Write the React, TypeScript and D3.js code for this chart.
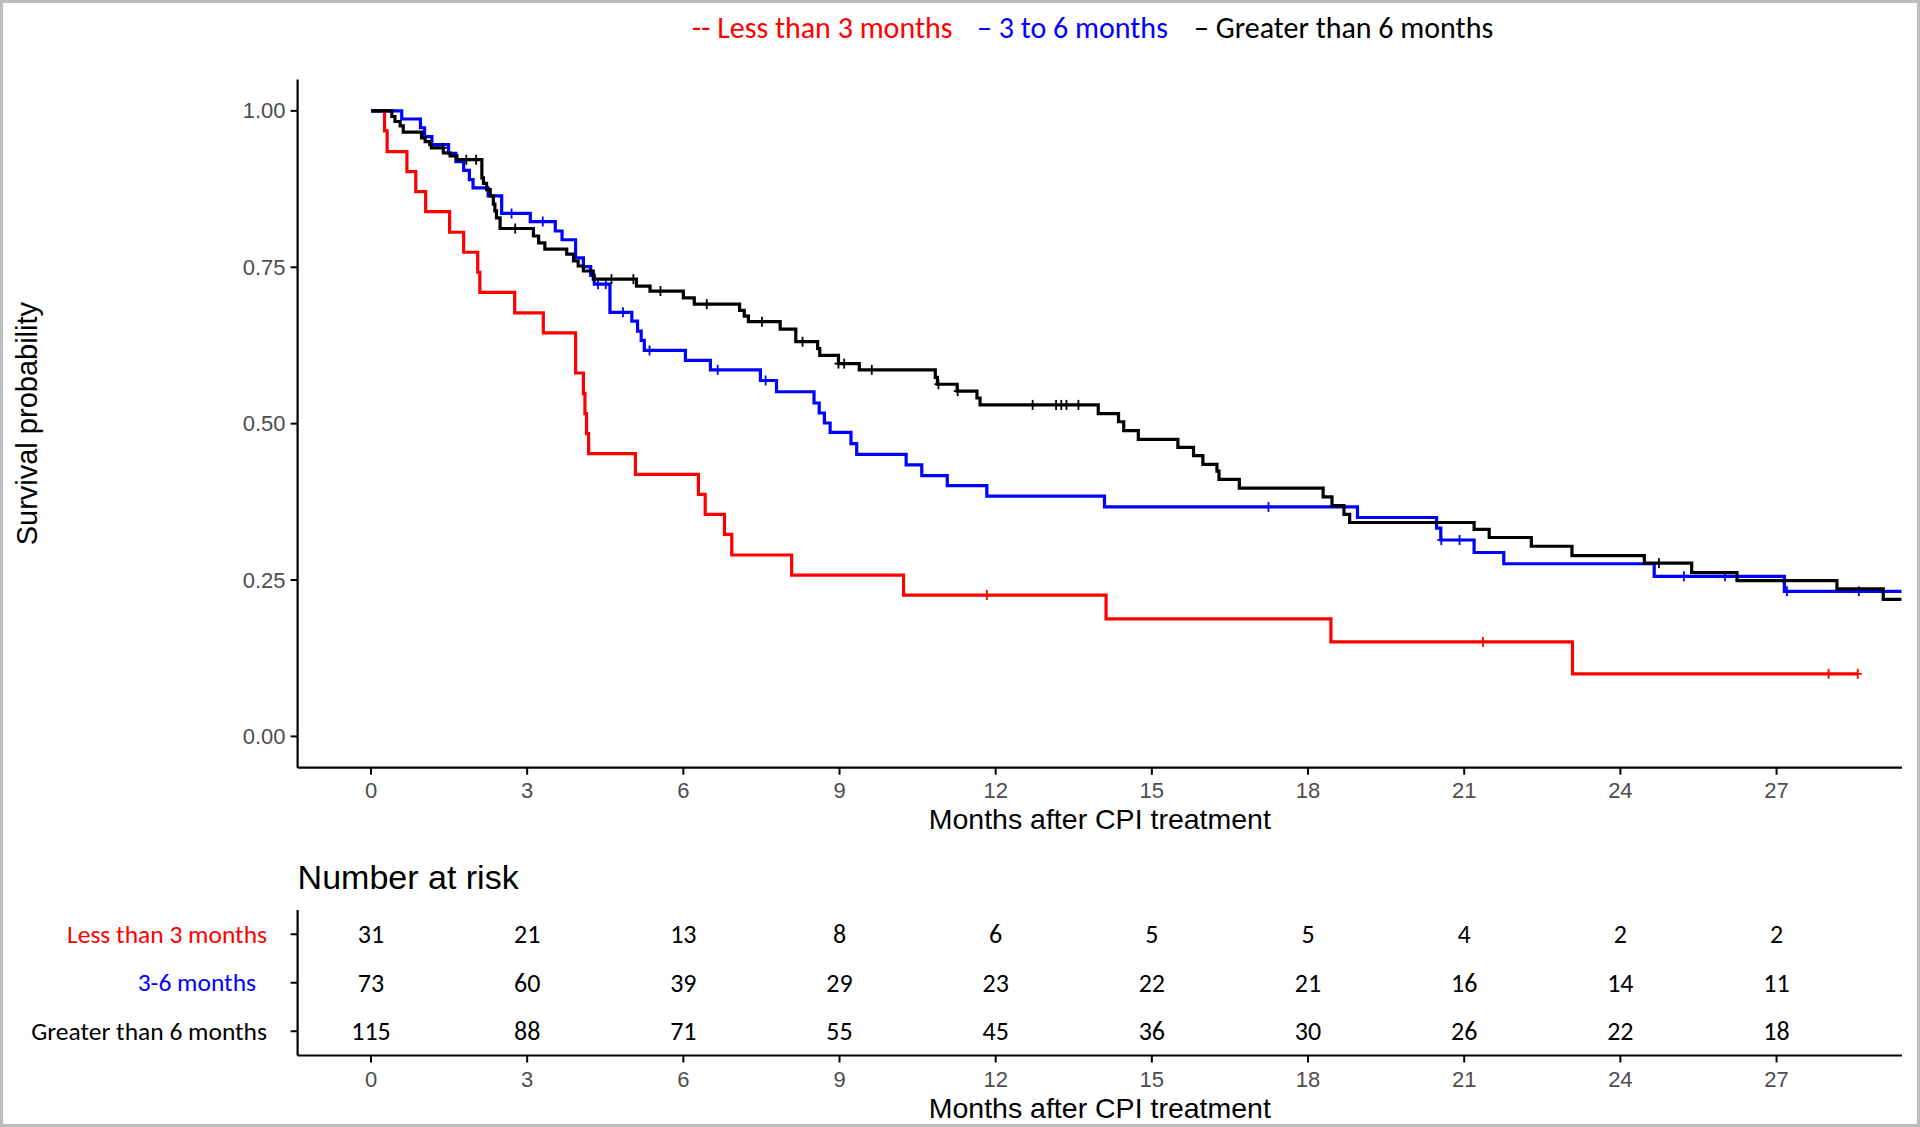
import React from "react";
import * as d3 from "d3";

// ---------- data ----------
const groupNames = ["Less than 3 months", "3 to 6 months", "Greater than 6 months"];
const riskLabels = ["Less than 3 months", "3-6 months", "Greater than 6 months"];
const xTicks = [0, 3, 6, 9, 12, 15, 18, 21, 24, 27];
const yTicks = [0, 0.25, 0.5, 0.75, 1];

// [time (months), survival after the drop]
const survLess: [number, number][] = [
  [0, 1], [0.26, 0.968], [0.31, 0.935], [0.69, 0.903], [0.86, 0.871], [1.05, 0.839],
  [1.51, 0.806], [1.78, 0.774], [2.05, 0.742], [2.09, 0.71], [2.76, 0.677], [3.31, 0.645],
  [3.93, 0.581], [4.08, 0.548], [4.11, 0.516], [4.14, 0.484], [4.18, 0.452], [5.08, 0.419],
  [6.29, 0.387], [6.42, 0.355], [6.79, 0.323], [6.93, 0.29], [8.08, 0.258], [10.23, 0.226],
  [14.12, 0.188], [18.44, 0.151], [23.08, 0.1],
];
const censLess = [11.83, 21.36, 28.0, 28.56];
const endLess = 28.56;

const survMid: [number, number][] = [
  [0, 1], [0.59, 0.987], [0.95, 0.973], [1.03, 0.959], [1.17, 0.946], [1.49, 0.932],
  [1.63, 0.919], [1.78, 0.905], [1.89, 0.89], [1.96, 0.877], [2.25, 0.864], [2.51, 0.836],
  [3.06, 0.823], [3.54, 0.808], [3.67, 0.794], [3.93, 0.765], [4.08, 0.751], [4.22, 0.737],
  [4.29, 0.723], [4.59, 0.678], [5.01, 0.664], [5.12, 0.648], [5.19, 0.633], [5.25, 0.617],
  [6.04, 0.601], [6.52, 0.586], [7.48, 0.569], [7.79, 0.551], [8.51, 0.533], [8.61, 0.517],
  [8.71, 0.501], [8.82, 0.486], [9.22, 0.468], [9.33, 0.451], [10.28, 0.434], [10.58, 0.417],
  [11.07, 0.401], [11.83, 0.384], [14.09, 0.367], [18.95, 0.35], [20.47, 0.333], [20.55, 0.314],
  [21.19, 0.294], [21.76, 0.276], [24.65, 0.256], [27.15, 0.232],
];
const censMid = [2.7, 3.3, 4.36, 4.51, 4.84, 5.35, 6.66, 7.58, 17.24, 20.56, 20.91, 25.22, 26.01, 27.2, 28.58];
const endMid = 29.4;

const survGreater: [number, number][] = [
  [0, 1], [0.4, 0.991], [0.46, 0.983], [0.56, 0.976], [0.62, 0.966], [0.97, 0.957],
  [1.04, 0.951], [1.13, 0.946], [1.16, 0.941], [1.39, 0.933], [1.52, 0.928], [1.65, 0.922],
  [2.13, 0.893], [2.16, 0.884], [2.22, 0.874], [2.29, 0.864], [2.35, 0.851], [2.38, 0.84],
  [2.41, 0.829], [2.48, 0.812], [3.12, 0.8], [3.22, 0.789], [3.34, 0.779], [3.76, 0.771],
  [3.89, 0.76], [3.98, 0.752], [4.08, 0.744], [4.27, 0.731], [5.1, 0.72], [5.36, 0.712],
  [6.0, 0.701], [6.21, 0.691], [7.08, 0.681], [7.17, 0.672], [7.25, 0.663], [7.86, 0.651],
  [8.16, 0.631], [8.58, 0.62], [8.62, 0.609], [8.98, 0.596], [9.38, 0.586], [10.84, 0.574],
  [10.88, 0.563], [11.26, 0.552], [11.64, 0.541], [11.7, 0.53], [13.97, 0.516], [14.36, 0.503],
  [14.46, 0.489], [14.74, 0.475], [15.5, 0.462], [15.8, 0.449], [15.98, 0.435], [16.25, 0.424],
  [16.29, 0.411], [16.68, 0.397], [18.29, 0.383], [18.46, 0.369], [18.69, 0.355], [18.8, 0.342],
  [21.19, 0.331], [21.48, 0.318], [22.29, 0.304], [23.07, 0.289], [24.46, 0.277], [25.37, 0.262],
  [26.24, 0.249], [28.16, 0.236], [29.05, 0.219],
];
const censGreater = [1.38, 1.83, 2.02, 2.77, 4.62, 5.04, 5.56, 6.45, 7.51, 8.29, 8.98, 9.09, 9.62,
  10.9, 11.27, 12.71, 13.16, 13.26, 13.36, 13.59, 24.74];
const endGreater = 29.4;

const riskLess = [31, 21, 13, 8, 6, 5, 5, 4, 2, 2];
const riskMid = [73, 60, 39, 29, 23, 22, 21, 16, 14, 11];
const riskGreater = [115, 88, 71, 55, 45, 36, 30, 26, 22, 18];

// ---------- styling / layout ----------
const colors = ["#ff0000", "#0000ff", "#000000"];
const W = 1920;
const H = 1127;
const axisFont = "'Liberation Sans', Arial, Helvetica, sans-serif";
const narrowFont = "'Liberation Sans Narrow', 'Arial Narrow', Carlito, Calibri, Lato, sans-serif";
const tickGray = "#4d4d4d";

const plotLeft = 297.6;
const plotRight = 1902;
const plotTop = 79.6;
const plotBottom = 767.7;
const tableTop = 910;
const tableBottom = 1055.5;

const x = d3.scaleLinear().domain([-1.41, 29.41]).range([plotLeft, plotRight]);
const y = d3.scaleLinear().domain([-0.05, 1.05]).range([plotBottom, plotTop]);
const yRow = d3.scalePoint<string>().domain(riskLabels).range([tableTop, tableBottom]).padding(0.5);

const stepLine = d3
  .line<[number, number]>()
  .x((d) => x(d[0]))
  .y((d) => y(d[1]))
  .curve(d3.curveStepAfter);

function survAt(steps: [number, number][], t: number) {
  let s = 1;
  for (const [tt, v] of steps) if (tt <= t) s = v;
  return s;
}

const curves = [
  { steps: survLess, cens: censLess, end: endLess },
  { steps: survMid, cens: censMid, end: endMid },
  { steps: survGreater, cens: censGreater, end: endGreater },
];
const riskRows = [riskLess, riskMid, riskGreater];
const legendX = [692, 977, 1194];
const legendPrefix = ["-- ", "– ", "– "];
const rowLabelRight = [267, 256, 267];

export default function App() {
  return (
    <svg
      width={W}
      height={H}
      viewBox={`0 0 ${W} ${H}`}
      style={{ position: "absolute", left: 0, top: 0, background: "#fff" }}
    >
      <rect x={0} y={0} width={W} height={H} fill="#ffffff" />
      <rect x={1.5} y={1.5} width={W - 3} height={H - 3} fill="none" stroke="#bdbdbd" strokeWidth={3} />

      {/* legend */}
      {groupNames.map((g, i) => (
        <text
          key={g}
          x={legendX[i]}
          y={27}
          dominantBaseline="central"
          fontFamily={narrowFont}
          fontSize={30}
          fill={colors[i]}
        >
          {legendPrefix[i] + g}
        </text>
      ))}

      {/* y axis */}
      <line x1={plotLeft} x2={plotLeft} y1={plotTop} y2={plotBottom} stroke="#000" strokeWidth={2.2} />
      {yTicks.map((t) => (
        <g key={t}>
          <line x1={plotLeft - 7} x2={plotLeft} y1={y(t)} y2={y(t)} stroke="#000" strokeWidth={2} />
          <text
            x={plotLeft - 12}
            y={y(t)}
            textAnchor="end"
            dominantBaseline="central"
            fontFamily={axisFont}
            fontSize={22}
            fill={tickGray}
          >
            {d3.format(".2f")(t)}
          </text>
        </g>
      ))}
      <text
        transform={`translate(27, ${(plotTop + plotBottom) / 2}) rotate(-90)`}
        textAnchor="middle"
        dominantBaseline="central"
        fontFamily={axisFont}
        fontSize={29}
        fill="#000"
      >
        Survival probability
      </text>

      {/* x axis */}
      <line x1={plotLeft} x2={plotRight} y1={plotBottom} y2={plotBottom} stroke="#000" strokeWidth={2.2} />
      {xTicks.map((t) => (
        <g key={t}>
          <line x1={x(t)} x2={x(t)} y1={plotBottom} y2={plotBottom + 7} stroke="#000" strokeWidth={2} />
          <text
            x={x(t)}
            y={plotBottom + 23}
            textAnchor="middle"
            dominantBaseline="central"
            fontFamily={axisFont}
            fontSize={22}
            fill={tickGray}
          >
            {t}
          </text>
        </g>
      ))}
      <text
        x={(plotLeft + plotRight) / 2}
        y={819}
        textAnchor="middle"
        dominantBaseline="central"
        fontFamily={axisFont}
        fontSize={28.5}
        fill="#000"
      >
        Months after CPI treatment
      </text>

      {/* curves */}
      <defs>
        <clipPath id="plotClip">
          <rect x={plotLeft} y={plotTop - 5} width={plotRight - plotLeft} height={plotBottom - plotTop + 5} />
        </clipPath>
      </defs>
      <g clipPath="url(#plotClip)">
        {curves.map((c, i) => {
          const last = c.steps[c.steps.length - 1];
          const pts: [number, number][] = [...c.steps, [c.end, last[1]]];
          return (
            <g key={i}>
              <path d={stepLine(pts) || ""} fill="none" stroke={colors[i]} strokeWidth={3.2} />
              {c.cens.map((t, j) => {
                const cx = x(t);
                const cy = y(survAt(c.steps, t));
                return (
                  <g key={j} stroke={colors[i]} strokeWidth={1.8}>
                    <line x1={cx} x2={cx} y1={cy - 5} y2={cy + 5} />
                    <line x1={cx - 4} x2={cx + 4} y1={cy} y2={cy} />
                  </g>
                );
              })}
            </g>
          );
        })}
      </g>

      {/* risk table */}
      <text x={plotLeft} y={877} dominantBaseline="central" fontFamily={axisFont} fontSize={34} fill="#000">
        Number at risk
      </text>
      <line x1={plotLeft} x2={plotLeft} y1={tableTop} y2={tableBottom} stroke="#000" strokeWidth={2.2} />
      <line x1={plotLeft} x2={plotRight} y1={tableBottom} y2={tableBottom} stroke="#000" strokeWidth={2.2} />
      {riskLabels.map((lab, i) => (
        <g key={lab}>
          <line
            x1={plotLeft - 7}
            x2={plotLeft}
            y1={yRow(lab)!}
            y2={yRow(lab)!}
            stroke="#000"
            strokeWidth={2}
          />
          <text
            x={rowLabelRight[i]}
            y={yRow(lab)!}
            textAnchor="end"
            dominantBaseline="central"
            fontFamily={narrowFont}
            fontSize={25.5}
            fill={colors[i]}
          >
            {lab}
          </text>
          {riskRows[i].map((n, j) => (
            <text
              key={j}
              x={x(xTicks[j])}
              y={yRow(lab)!}
              textAnchor="middle"
              dominantBaseline="central"
              fontFamily={narrowFont}
              fontSize={26}
              fill="#000"
            >
              {n}
            </text>
          ))}
        </g>
      ))}
      {xTicks.map((t) => (
        <g key={"tb" + t}>
          <line x1={x(t)} x2={x(t)} y1={tableBottom} y2={tableBottom + 7} stroke="#000" strokeWidth={2} />
          <text
            x={x(t)}
            y={1079}
            textAnchor="middle"
            dominantBaseline="central"
            fontFamily={axisFont}
            fontSize={22}
            fill={tickGray}
          >
            {t}
          </text>
        </g>
      ))}
      <text
        x={(plotLeft + plotRight) / 2}
        y={1108}
        textAnchor="middle"
        dominantBaseline="central"
        fontFamily={axisFont}
        fontSize={28.5}
        fill="#000"
      >
        Months after CPI treatment
      </text>
    </svg>
  );
}
